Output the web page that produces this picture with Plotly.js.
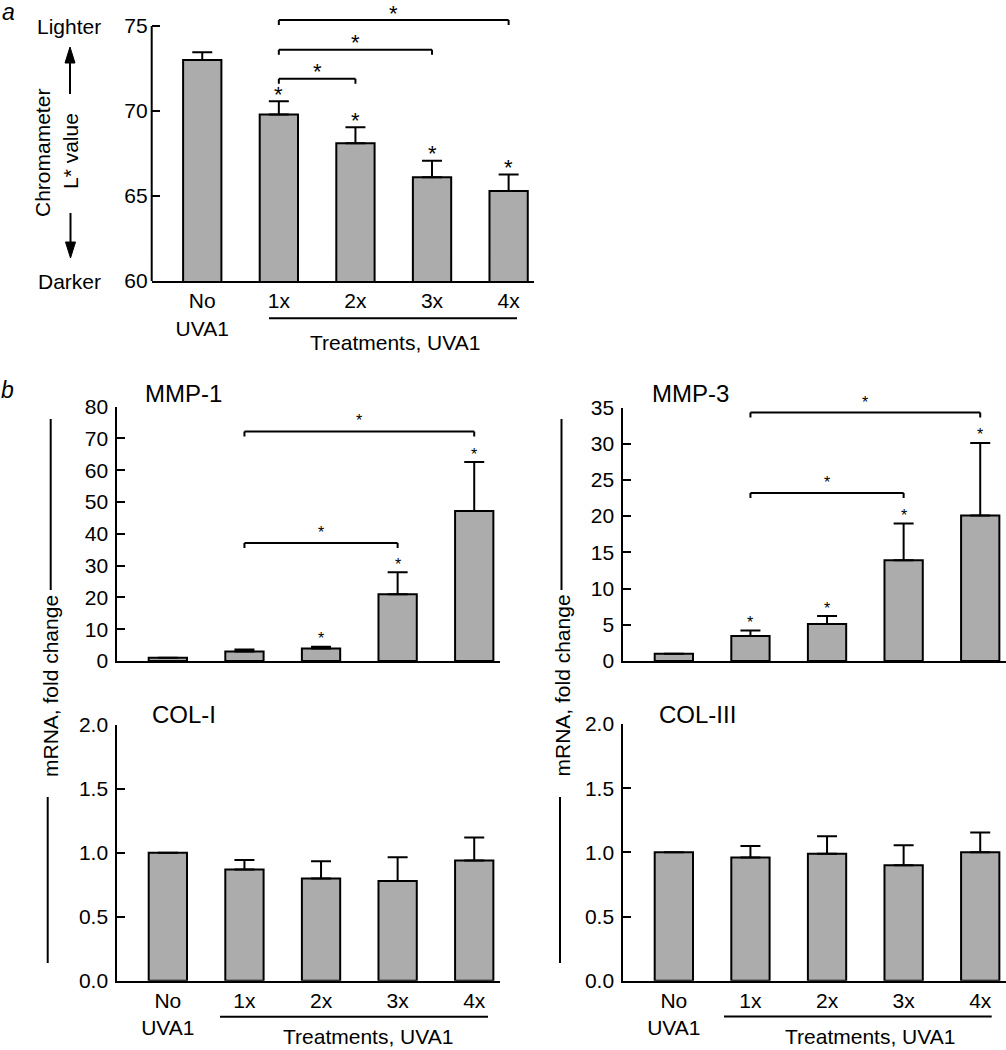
<!DOCTYPE html>
<html><head><meta charset="utf-8">
<script src="https://cdn.plot.ly/plotly-3.0.1.min.js"></script>
<style>html,body{margin:0;padding:0;background:#fff}</style>
</head><body><div id="chart" style="width:1006px;height:1050px"></div>
<script>
// ---------- data ----------
const categories = ['No<br>UVA1', '1x', '2x', '3x', '4x'];
const lValue   = [73.0, 69.8, 68.1, 66.1, 65.3];
const lErr     = [0.45, 0.77, 0.95, 0.97, 0.97];
const lStars   = [false, true, true, true, true];
const lBrackets = [[1, 2, 71.9], [1, 3, 73.6], [1, 4, 75.35]];

const mmp1     = [1.0, 3.0, 3.9, 21.0, 47.2];
const mmp1Err  = [0, 0.6, 0.6, 6.9, 15.4];
const mmp1Stars = [false, false, true, true, true];
const mmp1Brackets = [[1, 3, 37.1], [1, 4, 72.2]];

const mmp3     = [1.0, 3.45, 5.1, 13.9, 20.1];
const mmp3Err  = [0, 0.75, 1.1, 5.1, 10.0];
const mmp3Stars = [false, true, true, true, true];
const mmp3Brackets = [[1, 3, 23.2], [1, 4, 34.3]];

const col1     = [1.0, 0.87, 0.80, 0.78, 0.94];
const col1Err  = [0, 0.075, 0.135, 0.185, 0.18];
const col3     = [1.0, 0.96, 0.99, 0.90, 1.0];
const col3Err  = [0, 0.09, 0.135, 0.155, 0.155];

const ticksA   = [60, 65, 70, 75];
const ticksM1  = [0, 10, 20, 30, 40, 50, 60, 70, 80];
const ticksM3  = [0, 5, 10, 15, 20, 25, 30, 35];
const ticksCol = [0, 0.5, 1.0, 1.5, 2.0];

// ---------- helpers ----------
const W = 1006, H = 1050;
const FONT = 'Liberation Sans, Arial, Helvetica, sans-serif';
const px = v => v / W;
const py = v => 1 - v / H;
const xIdx = categories.map((c, i) => i);
const BAR = '#acacac';
const TICK = 21;

function barTrace(vals, errs, xa, ya) {
  return {
    type: 'bar', x: xIdx, y: vals, xaxis: xa, yaxis: ya, width: 0.5,
    marker: {color: BAR, line: {color: '#000', width: 2}},
    error_y: {type: 'data', array: errs, arrayminus: errs.map(() => 0), symmetric: false,
              visible: true, color: '#000', thickness: 2, width: 10},
    hoverinfo: 'skip', showlegend: false
  };
}

function xAxis(x0, x1, anchor, showLabels) {
  return {
    domain: [px(x0), px(x1)], range: [-0.66, 4.33], anchor: anchor,
    showline: true, linewidth: 2, linecolor: '#000', ticks: '',
    showgrid: false, zeroline: false, fixedrange: true,
    tickvals: xIdx, ticktext: categories, showticklabels: showLabels,
    tickfont: {family: FONT, size: TICK, color: '#000'}
  };
}
function yAxis(top, bottom, range, tickvals, fmt, anchor, showline) {
  return {
    domain: [py(bottom), py(top)], range: range, anchor: anchor,
    showline: showline, linewidth: 2, linecolor: '#000',
    ticks: 'inside', ticklen: 8, tickwidth: 2, tickcolor: '#000',
    tickvals: tickvals, tickformat: fmt, ticklabelstandoff: 3,
    showgrid: false, zeroline: false, fixedrange: true,
    tickfont: {family: FONT, size: TICK, color: '#000'}
  };
}

const shapes = [];
const annotations = [];
const LINE = {color: '#000', width: 2};

function brackets(list, xa, ya, starSize, shift) {
  list.forEach(([i, j, level]) => {
    shapes.push({type: 'line', xref: xa, yref: ya, x0: i, x1: j, y0: level, y1: level, line: LINE});
    [i, j].forEach(k => shapes.push({type: 'line', xref: xa, yref: ya, x0: k, x1: k,
      ysizemode: 'pixel', yanchor: level, y0: 0, y1: -5, line: LINE}));
    annotations.push({xref: xa, yref: ya, x: (i + j) / 2, y: level, text: '*', showarrow: false,
      xanchor: 'center', yanchor: 'middle', yshift: shift,
      font: {family: FONT, size: starSize, color: '#000'}});
  });
}
function barStars(flags, vals, errs, xa, ya, starSize, shift) {
  flags.forEach((f, i) => {
    if (!f) return;
    annotations.push({xref: xa, yref: ya, x: i, y: vals[i] + errs[i], text: '*', showarrow: false,
      xanchor: 'center', yanchor: 'middle', yshift: shift,
      font: {family: FONT, size: starSize, color: '#000'}});
  });
}
function label(text, x, y, size, angle, yanchor) {
  annotations.push({xref: 'paper', yref: 'paper', x: px(x), y: py(y), text: text, showarrow: false,
    xanchor: 'center', yanchor: yanchor || 'middle', textangle: angle || 0,
    font: {family: FONT, size: size, color: '#000'}});
}
function pline(x0, y0, x1, y1) {
  shapes.push({type: 'line', xref: 'paper', yref: 'paper', x0: px(x0), y0: py(y0), x1: px(x1), y1: py(y1), line: LINE});
}
function arrowHead(x, tipY, baseY) {
  shapes.push({type: 'path', xref: 'paper', yref: 'paper',
    path: `M ${px(x - 5)},${py(baseY)} L ${px(x)},${py(tipY)} L ${px(x + 5)},${py(baseY)} Z`,
    fillcolor: '#000', line: {color: '#000', width: 1}});
}

// ---------- panel a ----------
brackets(lBrackets, 'x', 'y', 22, 7);
barStars(lStars, lValue, lErr, 'x', 'y', 22, 7);
// y axis line only from 60 to 75
shapes.push({type: 'line', xref: 'x domain', yref: 'y', x0: 0, x1: 0, y0: 60, y1: 75, line: LINE});

annotations.push({xref: 'paper', yref: 'paper', x: 0, y: 1, xanchor: 'left', yanchor: 'top',
  text: '<i>a</i>', showarrow: false, xshift: 0, yshift: 3, font: {family: FONT, size: 23, color: '#000'}});
label('Lighter', 69, 27, 21);
label('Darker', 69, 281, 21);
label('Chromameter', 43, 153, 21, -90);
label('L* value', 70, 151, 21, -90);
pline(70, 94, 70, 60);
arrowHead(70, 47, 63);
pline(70.5, 213, 70.5, 245);
arrowHead(70.5, 258, 242);
pline(269, 318.3, 517, 318.3);
label('Treatments, UVA1', 395, 342, 21);

// ---------- panel b ----------
label('<i>b</i>', 7, 390, 23);
label('MMP-1', 183, 393.5, 24);
label('MMP-3', 690, 393.5, 24);
label('COL-I', 184, 714, 24);
label('COL-III', 697, 714, 24);

brackets(mmp1Brackets, 'x2', 'y2', 16, 10.5);
barStars(mmp1Stars, mmp1, mmp1Err, 'x2', 'y2', 16, 8);
brackets(mmp3Brackets, 'x3', 'y3', 16, 10.5);
barStars(mmp3Stars, mmp3, mmp3Err, 'x3', 'y3', 16, 8);

// y-axis titles with long rules
label('mRNA, fold change', 50, 686, 21, -90);
pline(50.7, 419, 50.7, 590);
pline(47.7, 797, 47.7, 963);
label('mRNA, fold change', 561.5, 686, 21, -90);
pline(561.5, 419, 561.5, 590);
pline(560, 797, 560, 963);

pline(220, 1016.7, 488, 1016.7);
label('Treatments, UVA1', 367.5, 1050, 21, 0, 'bottom');
pline(724, 1016.5, 991.7, 1016.5);
label('Treatments, UVA1', 870, 1050, 21, 0, 'bottom');

const data = [
  barTrace(lValue, lErr, 'x', 'y'),
  barTrace(mmp1, mmp1Err, 'x2', 'y2'),
  barTrace(mmp3, mmp3Err, 'x3', 'y3'),
  barTrace(col1, col1Err, 'x4', 'y4'),
  barTrace(col3, col3Err, 'x5', 'y5')
];

const layout = {
  width: W, height: H, autosize: false,
  margin: {l: 0, r: 0, t: 0, b: 0},
  paper_bgcolor: '#fff', plot_bgcolor: 'rgba(0,0,0,0)',
  font: {family: FONT, color: '#000'},
  showlegend: false, bargap: 0,
  xaxis:  xAxis(151.7, 533.9, 'y', true),
  yaxis:  yAxis(5.6, 281, [60, 76.2], ticksA, 'd', 'x', false),
  xaxis2: xAxis(117.3, 499.5, 'y2', false),
  yaxis2: yAxis(406.7, 661, [0, 80], ticksM1, 'd', 'x2', true),
  xaxis3: xAxis(623.3, 1005.5, 'y3', false),
  yaxis3: yAxis(407.5, 661, [0, 35], ticksM3, 'd', 'x3', true),
  xaxis4: xAxis(117.3, 499.5, 'y4', true),
  yaxis4: yAxis(725, 980.7, [0, 2], ticksCol, '.1f', 'x4', true),
  xaxis5: xAxis(623.3, 1005.5, 'y5', true),
  yaxis5: yAxis(724, 980.7, [0, 2], ticksCol, '.1f', 'x5', true),
  shapes: shapes,
  annotations: annotations
};

Plotly.newPlot('chart', data, layout, {displayModeBar: false, staticPlot: true});
</script>
</body></html>
